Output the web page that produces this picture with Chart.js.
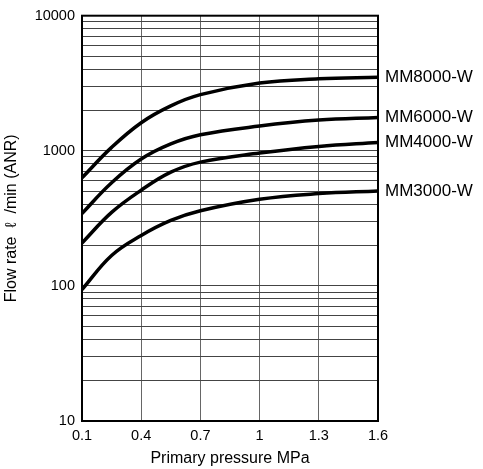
<!DOCTYPE html>
<html>
<head>
<meta charset="utf-8">
<script src="https://cdn.jsdelivr.net/npm/chart.js@4.4.1/dist/chart.umd.min.js"></script>
<style>
  html, body { margin: 0; padding: 0; background: #fff; }
  #wrap { width: 483px; height: 469px; }
</style>
</head>
<body>
<div id="wrap"><canvas id="flow-chart"></canvas></div>
<script>
const pressure = [0.1, 0.25, 0.4, 0.55, 0.7, 1.0, 1.3, 1.6];

const mm8000 = [631, 1060, 1614, 2150, 2603, 3170, 3410, 3509];
const mm6000 = [344, 580, 869, 1125, 1315, 1525, 1687, 1766];
const mm4000 = [208, 350, 511, 695, 825, 962, 1077, 1152];
const mm3000 = [94, 168, 236, 305, 360, 438, 482, 504];

const seriesLabels = ['MM8000-W', 'MM6000-W', 'MM4000-W', 'MM3000-W'];
const seriesValues = [mm8000, mm6000, mm4000, mm3000];

const xTicks = [0.1, 0.4, 0.7, 1, 1.3, 1.6];
const yMajorTicks = [10, 100, 1000, 10000];
const yGridSteps = [1, 2, 3, 4, 5, 6, 7, 8, 9];

const fontFamily = '"Liberation Sans", Arial, sans-serif';

// y grid: every 1..9 inside each decade
const yTicks = [];
for (const decade of yMajorTicks.slice(0, -1)) {
    for (const step of yGridSteps) {
        yTicks.push(decade * step);
    }
}
yTicks.push(yMajorTicks[yMajorTicks.length - 1]);

const datasets = seriesValues.map((values, i) => ({
    label: seriesLabels[i],
    data: values.map((v, j) => ({ x: pressure[j], y: v })),
    borderColor: '#000',
    borderWidth: 3.5,
    pointRadius: 0,
    tension: 0.4,
    fill: false,
}));

// frame around the plot area
const framePlugin = {
    id: 'frame',
    beforeDatasetsDraw(chart) {
        const { ctx, chartArea } = chart;
        ctx.save();
        ctx.strokeStyle = '#000';
        ctx.lineWidth = 2;
        ctx.strokeRect(chartArea.left, chartArea.top,
            chartArea.right - chartArea.left, chartArea.bottom - chartArea.top);
        ctx.restore();
    },
};

// series names at the right end of each curve
const endLabelsPlugin = {
    id: 'endLabels',
    afterDatasetsDraw(chart) {
        const { ctx, chartArea, scales } = chart;
        ctx.save();
        ctx.fillStyle = '#000';
        ctx.font = '17px ' + fontFamily;
        ctx.textAlign = 'left';
        ctx.textBaseline = 'middle';
        chart.data.datasets.forEach((ds) => {
            const last = ds.data[ds.data.length - 1];
            ctx.fillText(ds.label, chartArea.right + 7, scales.y.getPixelForValue(last.y));
        });
        ctx.restore();
    },
};

new Chart(document.getElementById('flow-chart'), {
    type: 'line',
    data: { datasets },
    options: {
        responsive: true,
        maintainAspectRatio: false,
        animation: false,
        layout: { padding: { top: 11, right: 105, left: 0, bottom: 0 } },
        plugins: {
            legend: { display: false },
            tooltip: { enabled: false },
        },
        scales: {
            x: {
                type: 'linear',
                min: 0.1,
                max: 1.6,
                afterBuildTicks: (scale) => {
                    scale.ticks = xTicks.map((v) => ({ value: v }));
                },
                afterFit: (scale) => { scale.height = 48; },
                grid: { color: '#666', lineWidth: 1, drawTicks: false },
                border: { display: false },
                ticks: {
                    color: '#000',
                    font: { family: fontFamily, size: 14.5 },
                    padding: 6,
                    maxRotation: 0,
                    autoSkip: false,
                    callback: (v) => String(v),
                },
                title: {
                    display: true,
                    text: 'Primary pressure MPa',
                    color: '#000',
                    font: { family: fontFamily, size: 16 },
                    padding: { top: 0, bottom: 1 },
                },
            },
            y: {
                type: 'logarithmic',
                min: 10,
                max: 10000,
                afterBuildTicks: (scale) => {
                    scale.ticks = yTicks.map((v) => ({ value: v }));
                },
                afterFit: (scale) => { scale.width = 82; },
                grid: { color: '#444', lineWidth: 1, drawTicks: false },
                border: { display: false },
                ticks: {
                    color: '#000',
                    font: { family: fontFamily, size: 14.5 },
                    padding: 7,
                    autoSkip: false,
                    callback: (v) => (yMajorTicks.includes(v) ? String(v) : ''),
                },
                title: {
                    display: true,
                    text: 'Flow rate  ℓ  /min (ANR)',
                    color: '#000',
                    font: { family: fontFamily, size: 16 },
                    padding: { top: 2, bottom: 0 },
                },
            },
        },
    },
    plugins: [framePlugin, endLabelsPlugin],
});
</script>
</body>
</html>
